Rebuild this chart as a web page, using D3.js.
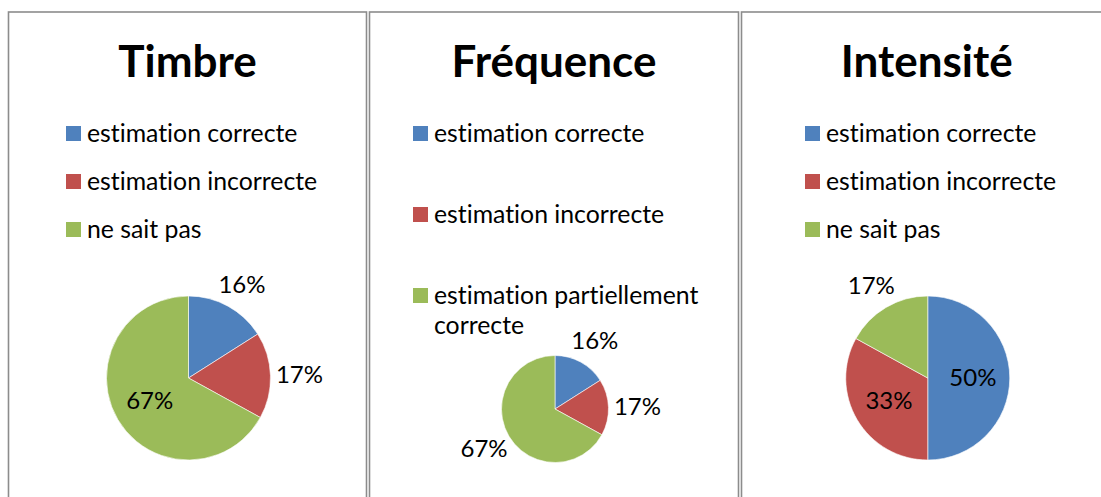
<!DOCTYPE html>
<html>
<head>
<meta charset="utf-8">
<script src="https://cdn.jsdelivr.net/npm/d3@7"></script>
<style>
  html, body { margin: 0; padding: 0; background: #fff; }
  svg { display: block; }
  text { font-family: Lato, "Open Sans", sans-serif; fill: #000; font-variant-ligatures: none; font-feature-settings: "liga" 0, "clig" 0; }
</style>
</head>
<body>
<svg id="chart" width="1101" height="497"></svg>
<script>
// Survey answers, one pie per sound attribute (percent of answers)
const chartTitles = ["Timbre", "Fréquence", "Intensité"];

const timbreCategories = ["estimation correcte", "estimation incorrecte", "ne sait pas"];
const timbreValues = [16, 17, 67];

const frequenceCategories = ["estimation correcte", "estimation incorrecte", "estimation partiellement correcte"];
const frequenceValues = [16, 17, 67];

const intensiteCategories = ["estimation correcte", "estimation incorrecte", "ne sait pas"];
const intensiteValues = [50, 33, 17];

const sliceColors = ["#4f81bd", "#c0504d", "#9bbb59"];

// Panel geometry
const panels = [
  { x0: 8.5,   x1: 366.5, legendX: 66,  legendStep: 48, pieCy: 378, radius: 82,   categories: timbreCategories,    values: timbreValues },
  { x0: 369.5, x1: 738.5, legendX: 413, legendStep: 81, pieCy: 409, radius: 53.5, categories: frequenceCategories, values: frequenceValues },
  { x0: 741.5, x1: 1112,  legendX: 805, legendStep: 48, pieCy: 378, radius: 82,   categories: intensiteCategories, values: intensiteValues }
];

const svg = d3.select("#chart");
const color = d3.scaleOrdinal().range(sliceColors);
const pie = d3.pie().sort(null).value(d => d);

panels.forEach((p, i) => {
  const g = svg.append("g");
  const cx = (p.x0 + p.x1) / 2 + 1;

  // frame
  g.append("rect")
    .attr("x", p.x0).attr("y", 12)
    .attr("width", p.x1 - p.x0).attr("height", 520)
    .attr("fill", "#fff")
    .attr("stroke", "#8c8c8c")
    .attr("stroke-width", 1.6);

  // title
  g.append("text")
    .attr("x", (p.x0 + p.x1) / 2)
    .attr("y", 77)
    .attr("text-anchor", "middle")
    .style("font-weight", "bold")
    .style("font-size", "44px")
    .text(chartTitles[i]);

  // legend
  const textX = p.legendX + 21;
  const maxW = p.x1 - textX - 25;
  p.categories.forEach((cat, k) => {
    const base = 142 + k * p.legendStep;
    g.append("rect")
      .attr("x", p.legendX).attr("y", base - 16)
      .attr("width", 15).attr("height", 15)
      .attr("fill", color(k));
    const t = g.append("text")
      .attr("x", textX).attr("y", base)
      .style("font-size", "24.8px");
    // wrap long entries on word boundaries
    const words = cat.split(" ");
    let line = [];
    let tspan = t.append("tspan").attr("x", textX).attr("dy", 0);
    words.forEach(w => {
      line.push(w);
      tspan.text(line.join(" "));
      if (tspan.node().getComputedTextLength() > maxW && line.length > 1) {
        line.pop();
        tspan.text(line.join(" "));
        line = [w];
        tspan = t.append("tspan").attr("x", textX).attr("dy", 30).text(w);
      }
    });
  });

  // pie
  const arcs = pie(p.values);
  const arc = d3.arc().innerRadius(0).outerRadius(p.radius);
  const pg = g.append("g").attr("transform", `translate(${cx},${p.pieCy})`);
  pg.selectAll("path")
    .data(arcs)
    .join("path")
    .attr("d", arc)
    .attr("fill", (d, k) => color(k))
    .attr("stroke", "#fff")
    .attr("stroke-width", 0.6);

  // value labels: inside for large slices of large pies, outside otherwise
  pg.selectAll("text.val")
    .data(arcs)
    .join("text")
    .attr("class", "val")
    .attr("text-anchor", "middle")
    .attr("dy", "0.35em")
    .style("font-size", "24px")
    .attr("transform", d => {
      const a = (d.startAngle + d.endAngle) / 2;
      const s = Math.sin(a), c = Math.cos(a);
      const inside = d.data >= 30 && p.radius > 60;
      if (inside) {
        const rr = p.radius * 0.55;
        return `translate(${s * rr},${-c * rr})`;
      }
      return `translate(${s * (p.radius + 29)},${-c * (p.radius + 25)})`;
    })
    .text(d => d.data + "%");
});
</script>
</body>
</html>
